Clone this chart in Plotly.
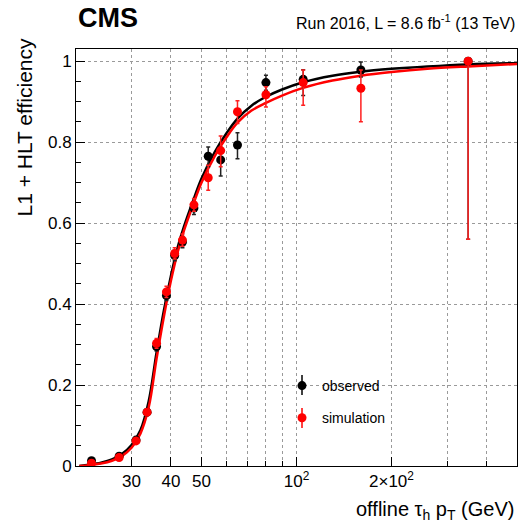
import plotly.graph_objects as go

# ---- data ----
pt_bins = [22.4, 27.4, 31.0, 33.6, 36.0, 38.7, 41.1, 43.5, 47.3, 52.5, 57.5, 65, 80, 105, 160, 350]

obs_eff = [0.013, 0.024, 0.064, 0.133, 0.295, 0.421, 0.520, 0.553, 0.637, 0.765, 0.756, 0.793, 0.947, 0.955, 0.978, 1.000]
obs_up  = [0.004, 0.005, 0.007, 0.008, 0.011, 0.012, 0.013, 0.014, 0.016, 0.023, 0.031, 0.030, 0.018, 0.024, 0.020, 0.000]
obs_dn  = [0.004, 0.005, 0.007, 0.008, 0.011, 0.012, 0.013, 0.014, 0.016, 0.026, 0.040, 0.034, 0.019, 0.040, 0.017, 0.440]

sim_eff = [0.007, 0.021, 0.062, 0.133, 0.303, 0.430, 0.525, 0.558, 0.645, 0.712, 0.779, 0.875, 0.917, 0.947, 0.933, 1.000]
sim_up  = [0.003, 0.004, 0.006, 0.008, 0.012, 0.014, 0.014, 0.015, 0.016, 0.031, 0.036, 0.027, 0.020, 0.031, 0.045, 0.000]
sim_dn  = [0.003, 0.004, 0.006, 0.008, 0.012, 0.014, 0.014, 0.015, 0.016, 0.031, 0.040, 0.029, 0.030, 0.056, 0.083, 0.440]

fit_pt  = [20.5, 22, 24, 26, 28, 30, 32, 34, 36, 38, 40, 42, 44, 47, 50, 55, 60, 65, 72, 80, 90, 105, 130, 160, 200, 260, 350, 500]
fit_obs = [0.000, 0.003, 0.008, 0.016, 0.030, 0.052, 0.088, 0.160, 0.280, 0.385, 0.470, 0.540, 0.592, 0.655, 0.710, 0.775,
           0.822, 0.858, 0.890, 0.912, 0.930, 0.948, 0.964, 0.974, 0.981, 0.987, 0.992, 0.995]
fit_sim = [0.000, 0.002, 0.006, 0.013, 0.025, 0.045, 0.080, 0.145, 0.265, 0.370, 0.458, 0.528, 0.582, 0.645, 0.700, 0.765,
           0.812, 0.848, 0.878, 0.897, 0.915, 0.934, 0.952, 0.964, 0.973, 0.981, 0.987, 0.993]

x_tickvals = [30, 40, 50, 100, 200]
x_ticktext = ["30", "40", "50", "10<sup>2</sup>", "2×10<sup>2</sup>"]
x_minorvals = [60, 70, 80, 90, 300, 400]

FONT = "Liberation Sans, Arial, Helvetica, sans-serif"

fig = go.Figure()

fig.add_trace(go.Scatter(x=fit_pt, y=fit_obs, mode="lines", line=dict(color="black", width=2.5, shape="spline"),
                         showlegend=False, hoverinfo="skip"))
fig.add_trace(go.Scatter(x=fit_pt, y=fit_sim, mode="lines", line=dict(color="#ff0000", width=2.5, shape="spline"),
                         showlegend=False, hoverinfo="skip"))

fig.add_trace(go.Scatter(
    x=pt_bins, y=obs_eff, mode="markers", name="observed", legendgroup="a",
    marker=dict(color="black", size=9),
    error_y=dict(type="data", symmetric=False, array=obs_up, arrayminus=obs_dn,
                 color="#222222", thickness=1.5, width=2)))
fig.add_trace(go.Scatter(
    x=pt_bins, y=sim_eff, mode="markers", name="simulation", legendgroup="b",
    marker=dict(color="#ff0000", size=9),
    error_y=dict(type="data", symmetric=False, array=sim_up, arrayminus=sim_dn,
                 color="#ff2020", thickness=1.5, width=2)))

fig.update_layout(
    width=521, height=528,
    margin=dict(l=76, r=4, t=49, b=62),
    paper_bgcolor="white", plot_bgcolor="white",
    font=dict(family=FONT, color="black", size=17),
    showlegend=True,
    legend=dict(x=(282 - 76) / 441, y=(466 - 370) / 417, xanchor="left", yanchor="top",
                bgcolor="rgba(0,0,0,0)", font=dict(size=14, family=FONT),
                tracegroupgap=11),
    xaxis=dict(type="log", range=[1.30103, 2.69897],
               tickmode="array", tickvals=x_tickvals, ticktext=x_ticktext,
               ticks="inside", ticklen=9, tickcolor="black", tickwidth=1,
               showgrid=True, gridcolor="#9a9a9a", griddash="dot", gridwidth=1,
               minor=dict(tickmode="array", tickvals=x_minorvals, ticks="inside", ticklen=5,
                          tickcolor="black", showgrid=True, gridcolor="#9a9a9a", griddash="dot"),
               showline=True, linecolor="black", linewidth=1, mirror=True,
               zeroline=False, tickfont=dict(size=17)),
    yaxis=dict(range=[0, 1.03], tickmode="array", tickvals=[0, 0.2, 0.4, 0.6, 0.8, 1.0],
               ticktext=["0", "0.2", "0.4", "0.6", "0.8", "1"],
               ticks="inside", ticklen=9, tickcolor="black",
               showgrid=True, gridcolor="#9a9a9a", griddash="dot", gridwidth=1,
               minor=dict(dtick=0.05, tick0=0, ticks="inside", ticklen=5, tickcolor="black", showgrid=False),
               showline=True, linecolor="black", linewidth=1, mirror=True,
               zeroline=False, tickfont=dict(size=17)),
)

# legend symbol vertical error lines
for yy, col in [(385, "black"), (418, "#ff0000")]:
    fig.add_shape(type="line", xref="paper", yref="paper",
                  x0=(302 - 76) / 441, x1=(302 - 76) / 441,
                  y0=(466 - yy + 10) / 417, y1=(466 - yy - 10) / 417,
                  line=dict(color=col, width=1.5), layer="below")

fig.add_annotation(text="<b>CMS</b>", xref="paper", yref="paper", x=0, y=(466 - 18) / 417,
                   xanchor="left", yanchor="middle", showarrow=False,
                   font=dict(size=27, family=FONT))
fig.add_annotation(text="Run 2016, L = 8.6 fb<sup>-1</sup> (13 TeV)", xref="paper", yref="paper",
                   x=1.0, y=(466 - 22) / 417, xanchor="right", yanchor="middle", showarrow=False,
                   font=dict(size=16, family=FONT))
fig.add_annotation(text="L1 + HLT efficiency", xref="paper", yref="paper",
                   x=(24.5 - 76) / 441, y=(466 - 127) / 417, xanchor="center", yanchor="middle",
                   textangle=-90, showarrow=False, font=dict(size=21, family=FONT))
fig.add_annotation(text="offline τ<sub>h</sub> p<sub>T</sub> (GeV)", xref="paper", yref="paper",
                   x=(516 - 76) / 441, y=(466 - 510) / 417, xanchor="right", yanchor="middle",
                   showarrow=False, font=dict(size=20, family=FONT))

fig.write_html("out.html", config={"displayModeBar": False, "staticPlot": True},
               post_script="document.body.style.margin='0';document.body.style.overflow='hidden';")
